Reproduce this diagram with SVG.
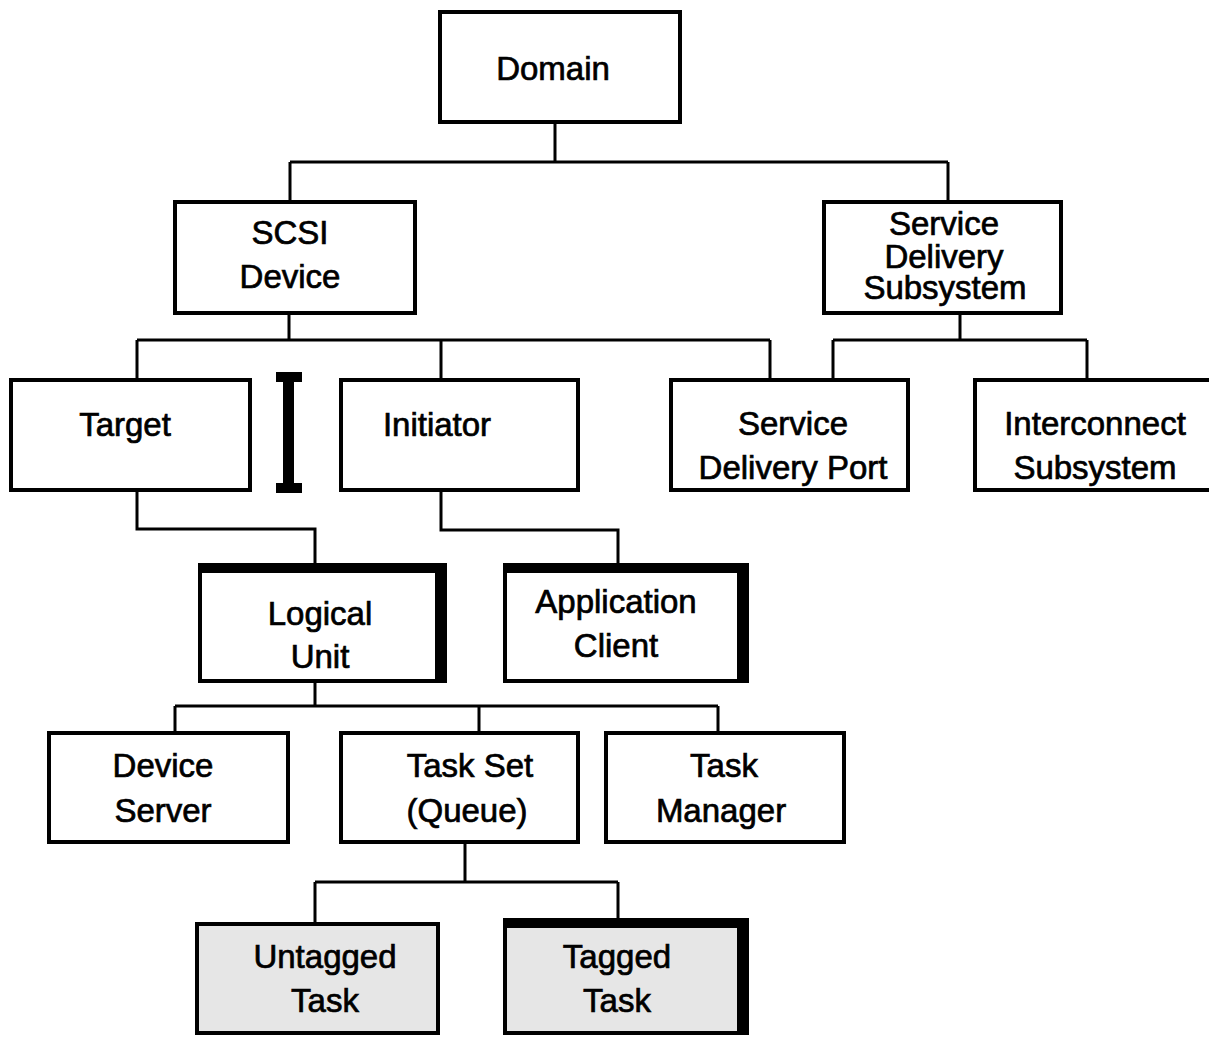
<svg xmlns="http://www.w3.org/2000/svg" width="1209" height="1040" viewBox="0 0 1209 1040">
<style>
.box{fill:#fff;stroke:#000;stroke-width:4}
.gray{fill:#e6e6e6;stroke:#000;stroke-width:4}
.bar{fill:#000}
.t{font-family:"Liberation Sans",Arial,sans-serif;font-size:33px;fill:#000;stroke:#000;stroke-width:0.7;text-anchor:middle}
.c{fill:none;stroke:#000;stroke-width:3}
</style>
<rect width="1209" height="1040" fill="#fff"/>
<g id="connectors">
<path class="c" d="M555 124V162M290 162H948M290 162V200M948 162V200"/>
<path class="c" d="M289 315V340M137 340H770M137 340V378M441 340V378M770 340V378"/>
<path class="c" d="M960 315V340M833 340H1087M833 340V378M1087 340V378"/>
<path class="c" d="M137 492V529H315V563"/>
<path class="c" d="M441 492V530H618V563"/>
<path class="c" d="M315 683V706M175 706H718M175 706V731M479 706V731M718 706V731"/>
<path class="c" d="M465 844V882M315 882H618M315 882V922M618 882V918"/>
</g>
<g id="ibeam">
<rect class="bar" x="276" y="372" width="26" height="10"/>
<rect class="bar" x="283" y="380" width="11" height="105"/>
<rect class="bar" x="276" y="483" width="26" height="10"/>
</g>
<g id="domain"><rect class="box" x="440" y="12" width="240" height="110"/><text class="t" x="553" y="80">Domain</text></g>
<g id="scsi-device"><rect class="box" x="175" y="202" width="240" height="111"/><text class="t" x="290" y="244">SCSI</text><text class="t" x="290" y="288">Device</text></g>
<g id="sds"><rect class="box" x="824" y="202" width="237" height="111"/><text class="t" x="944" y="235">Service</text><text class="t" x="944" y="268">Delivery</text><text class="t" x="945" y="299">Subsystem</text></g>
<g id="target"><rect class="box" x="11" y="380" width="239" height="110"/><text class="t" x="125" y="436">Target</text></g>
<g id="initiator"><rect class="box" x="341" y="380" width="237" height="110"/><text class="t" x="437" y="436">Initiator</text></g>
<g id="sdp"><rect class="box" x="671" y="380" width="237" height="110"/><text class="t" x="793" y="435">Service</text><text class="t" x="793" y="479">Delivery Port</text></g>
<g id="interconnect"><rect class="box" x="975" y="380" width="260" height="110"/><text class="t" x="1095" y="435">Interconnect</text><text class="t" x="1095" y="479">Subsystem</text></g>
<g id="logical-unit"><rect class="box" x="200" y="565" width="245" height="116"/><rect class="bar" x="198" y="563" width="249" height="10"/><rect class="bar" x="435" y="563" width="12" height="120"/><text class="t" x="320" y="625">Logical</text><text class="t" x="320" y="668">Unit</text></g>
<g id="application-client"><rect class="box" x="505" y="565" width="242" height="116"/><rect class="bar" x="503" y="563" width="246" height="10"/><rect class="bar" x="737" y="563" width="12" height="120"/><text class="t" x="616" y="613">Application</text><text class="t" x="616" y="657">Client</text></g>
<g id="device-server"><rect class="box" x="49" y="733" width="239" height="109"/><text class="t" x="163" y="777">Device</text><text class="t" x="163" y="822">Server</text></g>
<g id="task-set"><rect class="box" x="341" y="733" width="237" height="109"/><text class="t" x="470" y="777">Task Set</text><text class="t" x="467" y="822">(Queue)</text></g>
<g id="task-manager"><rect class="box" x="606" y="733" width="238" height="109"/><text class="t" x="724" y="777">Task</text><text class="t" x="721" y="822">Manager</text></g>
<g id="untagged-task"><rect class="gray" x="197" y="924" width="241" height="109"/><text class="t" x="325" y="968">Untagged</text><text class="t" x="325" y="1012">Task</text></g>
<g id="tagged-task"><rect class="gray" x="505" y="920" width="242" height="113"/><rect class="bar" x="503" y="918" width="246" height="10"/><rect class="bar" x="737" y="918" width="12" height="117"/><text class="t" x="617" y="968">Tagged</text><text class="t" x="617" y="1012">Task</text></g>
</svg>
